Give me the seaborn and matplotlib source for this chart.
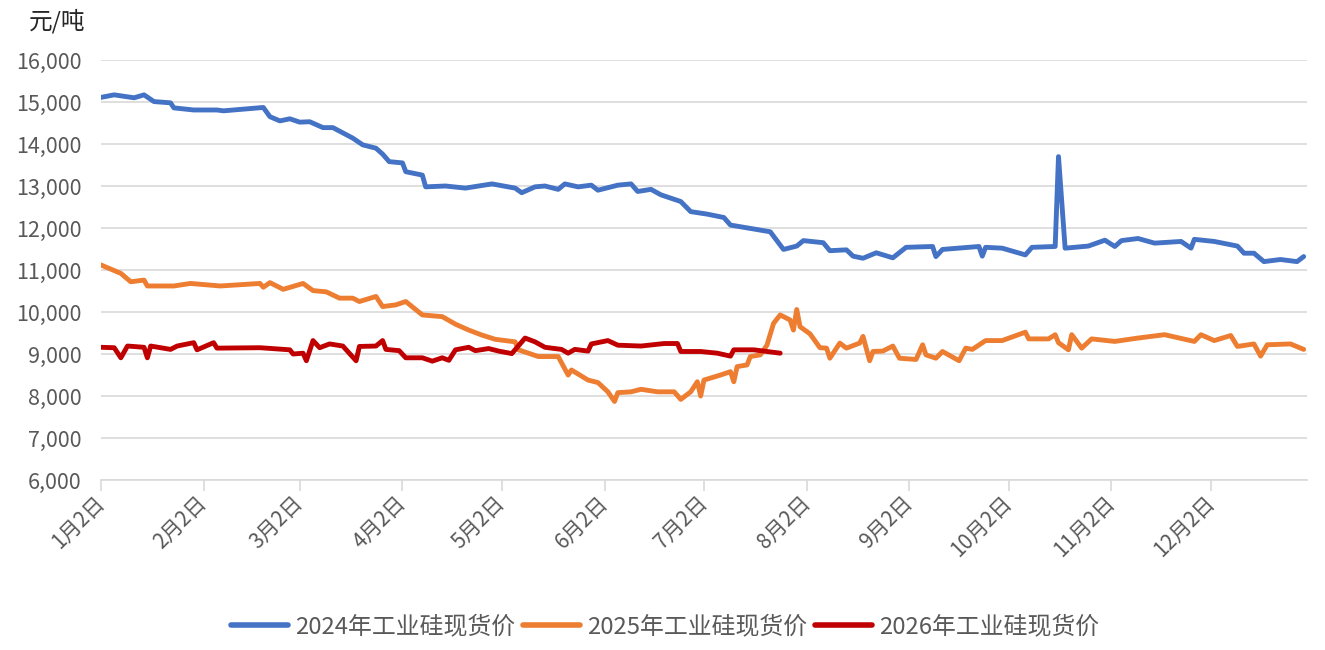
import matplotlib
matplotlib.use("Agg")
import matplotlib.pyplot as plt
import matplotlib.dates as mdates
from matplotlib.ticker import FuncFormatter, MultipleLocator
import pandas as pd
import seaborn as sns

sns.set_theme(style="white")
plt.rcParams['font.family'] = ['Noto Sans CJK SC', 'DejaVu Sans']

# 2024 spot price (month-day, yuan/ton)
dates_2024 = ['01-02', '01-06', '01-12', '01-15', '01-18', '01-23', '01-24', '01-30', '02-06', '02-08',
              '02-20', '02-22', '02-25', '02-28', '03-02', '03-05', '03-09', '03-12', '03-18', '03-21',
              '03-25', '03-27', '03-29', '04-02', '04-03', '04-08', '04-09', '04-15', '04-21', '04-29',
              '05-06', '05-08', '05-12', '05-15', '05-19', '05-21', '05-25', '05-29', '05-31', '06-06',
              '06-10', '06-12', '06-16', '06-19', '06-25', '06-28', '07-03', '07-08', '07-10', '07-16',
              '07-22', '07-26', '07-30', '08-01', '08-07', '08-09', '08-14', '08-16', '08-19', '08-23',
              '08-28', '09-01', '09-09', '09-10', '09-12', '09-23', '09-24', '09-25', '09-30', '10-07',
              '10-09', '10-16', '10-17', '10-19', '10-26', '10-31', '11-03', '11-05', '11-10', '11-15',
              '11-23', '11-26', '11-27', '12-03', '12-10', '12-12', '12-15', '12-18', '12-23', '12-28',
              '12-30']
price_2024 = [15110, 15170, 15100, 15170, 15010, 14980, 14860, 14810, 14810, 14790,
              14870, 14650, 14550, 14600, 14520, 14530, 14390, 14390, 14140, 13980,
              13900, 13760, 13580, 13550, 13340, 13260, 12980, 13000, 12950, 13050,
              12950, 12840, 12980, 13000, 12920, 13050, 12980, 13020, 12900, 13020,
              13050, 12870, 12920, 12790, 12630, 12390, 12330, 12250, 12070, 11990,
              11910, 11490, 11570, 11700, 11650, 11460, 11480, 11330, 11280, 11410,
              11290, 11540, 11560, 11320, 11490, 11560, 11330, 11540, 11520, 11360,
              11540, 11560, 13700, 11520, 11570, 11710, 11560, 11700, 11750, 11640,
              11680, 11520, 11730, 11680, 11570, 11400, 11400, 11200, 11250, 11200,
              11320]

# 2025 spot price
dates_2025 = ['01-02', '01-08', '01-11', '01-15', '01-16', '01-24', '01-29', '02-07', '02-19', '02-20',
              '02-22', '02-26', '03-03', '03-06', '03-10', '03-14', '03-18', '03-20', '03-25', '03-27',
              '03-31', '04-03', '04-08', '04-14', '04-18', '04-22', '04-26', '04-30', '05-06', '05-07',
              '05-10', '05-13', '05-19', '05-22', '05-23', '05-28', '05-31', '06-03', '06-05', '06-06',
              '06-10', '06-13', '06-18', '06-23', '06-25', '06-28', '06-30', '07-01', '07-02', '07-07',
              '07-10', '07-11', '07-12', '07-15', '07-16', '07-19', '07-21', '07-23', '07-25', '07-28',
              '07-29', '07-30', '07-31', '08-03', '08-06', '08-08', '08-09', '08-12', '08-14', '08-18',
              '08-19', '08-21', '08-22', '08-25', '08-28', '08-30', '09-04', '09-06', '09-07', '09-10',
              '09-12', '09-17', '09-19', '09-21', '09-25', '09-30', '10-07', '10-08', '10-14', '10-16',
              '10-17', '10-20', '10-21', '10-24', '10-27', '11-03', '11-10', '11-18', '11-27', '11-29',
              '12-03', '12-08', '12-10', '12-15', '12-17', '12-19', '12-26', '12-30']
price_2025 = [11120, 10920, 10720, 10760, 10620, 10620, 10680, 10620, 10680, 10590,
              10700, 10540, 10680, 10510, 10480, 10330, 10330, 10250, 10370, 10130,
              10170, 10250, 9930, 9890, 9710, 9570, 9450, 9350, 9290, 9100,
              9020, 8940, 8940, 8500, 8620, 8380, 8320, 8100, 7870, 8080,
              8100, 8160, 8100, 8100, 7920, 8100, 8340, 8000, 8380, 8500,
              8580, 8340, 8700, 8740, 8940, 8980, 9210, 9730, 9930, 9810,
              9570, 10060, 9650, 9480, 9150, 9140, 8900, 9260, 9140, 9260,
              9420, 8840, 9060, 9070, 9190, 8900, 8870, 9220, 8980, 8900,
              9060, 8840, 9140, 9110, 9320, 9320, 9520, 9360, 9360, 9460,
              9270, 9100, 9460, 9140, 9360, 9300, 9380, 9460, 9300, 9460,
              9320, 9440, 9180, 9240, 8950, 9220, 9240, 9110]

# 2026 spot price
dates_2026 = ['01-02', '01-06', '01-08', '01-10', '01-15', '01-16', '01-17', '01-23', '01-25', '01-30',
              '01-31', '02-05', '02-06', '02-19', '02-28', '02-29', '03-03', '03-04', '03-06', '03-08',
              '03-11', '03-15', '03-19', '03-20', '03-25', '03-27', '03-28', '04-01', '04-03', '04-08',
              '04-11', '04-14', '04-16', '04-18', '04-22', '04-24', '04-28', '05-01', '05-05', '05-09',
              '05-12', '05-15', '05-20', '05-22', '05-24', '05-28', '05-29', '06-03', '06-06', '06-13',
              '06-20', '06-24', '06-25', '07-01', '07-06', '07-10', '07-11', '07-17', '07-21', '07-25']
price_2026 = [9160, 9150, 8910, 9190, 9160, 8910, 9190, 9110, 9190, 9270,
              9100, 9270, 9140, 9150, 9100, 9000, 9020, 8840, 9320, 9150,
              9240, 9190, 8840, 9180, 9190, 9320, 9110, 9080, 8910, 8910,
              8830, 8910, 8850, 9100, 9160, 9080, 9130, 9070, 9010, 9380,
              9290, 9160, 9110, 9020, 9110, 9070, 9240, 9320, 9210, 9190,
              9250, 9250, 9060, 9060, 9020, 8950, 9100, 9100, 9060, 9020]

series_names = ['2024年工业硅现货价', '2025年工业硅现货价', '2026年工业硅现货价']
colors = ['#4472C4', '#ED7D31', '#C00000']

frames = []
for name, ds, ps in zip(series_names, [dates_2024, dates_2025, dates_2026],
                        [price_2024, price_2025, price_2026]):
    frames.append(pd.DataFrame({'date': pd.to_datetime(['2024-' + d for d in ds]),
                                'price': ps, 'series': name}))
df = pd.concat(frames, ignore_index=True)

fig = plt.figure(figsize=(13.25, 6.5), dpi=100)
ax = fig.add_axes([0.0762, 0.2615, 0.9102, 0.6462])

sns.lineplot(data=df, x='date', y='price', hue='series', palette=colors,
             hue_order=series_names, linewidth=3.5, estimator=None, ax=ax, legend=False)

ax.set_ylim(6000, 16000)
ax.set_xlim(pd.Timestamp('2024-01-02'), pd.Timestamp('2024-12-31'))
ax.yaxis.set_major_locator(MultipleLocator(1000))
ax.yaxis.set_major_formatter(FuncFormatter(lambda v, p: f'{int(v):,}'))
ax.xaxis.set_major_locator(mdates.DayLocator(bymonthday=2))
ax.xaxis.set_major_formatter(FuncFormatter(
    lambda v, p: f'{mdates.num2date(v).month}月{mdates.num2date(v).day}日'))

ax.grid(axis='y', color='#D9D9D9', linewidth=1.2)
ax.grid(axis='x', visible=False)
for s in ['left', 'right', 'top']:
    ax.spines[s].set_visible(False)
ax.spines['bottom'].set_color('#D9D9D9')
ax.spines['bottom'].set_linewidth(1.2)
ax.set_xlabel('')
ax.set_ylabel('')

ax.tick_params(axis='y', length=0, labelsize=15.5, labelcolor='#595959', pad=14)
ax.tick_params(axis='x', length=8, width=1.2, color='#D9D9D9', direction='out',
               labelsize=15, labelcolor='#595959', pad=6, bottom=True)
for lbl in ax.get_xticklabels():
    lbl.set_rotation(45)
    lbl.set_ha('right')
    lbl.set_va('center')
    lbl.set_rotation_mode('anchor')

fig.text(0.022, 0.967, '元/吨', fontsize=17, color='#262626', va='center')

handles = [plt.Line2D([0], [0], color=c, linewidth=4) for c in colors]
fig.legend(handles, series_names, loc='center', bbox_to_anchor=(0.502, 0.035), ncol=3,
           frameon=False, fontsize=17.2, handlelength=2.4, handletextpad=0.3,
           columnspacing=0.3, labelcolor='#595959')

fig.savefig('out.png', dpi=100)
